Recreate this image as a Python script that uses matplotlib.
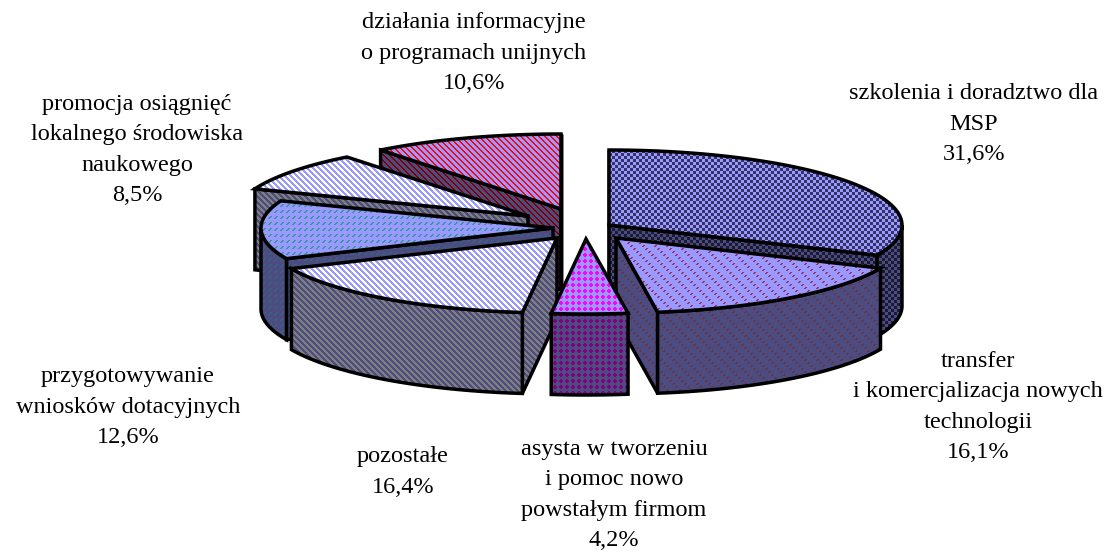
import numpy as np
import matplotlib
matplotlib.use("Agg")
import matplotlib.pyplot as plt
from matplotlib.patches import Polygon

plt.rcParams['font.family'] = ['Liberation Serif', 'DejaVu Serif']

# ---- data (clockwise from 12 o'clock) ----
categories = ["szkolenia i doradztwo dla\nMSP",
              "transfer\ni komercjalizacja nowych\ntechnologii",
              "asysta w tworzeniu\ni pomoc nowo\npowstałym firmom",
              "pozostałe",
              "przygotowywanie\nwniosków dotacyjnych",
              "promocja osiągnięć\nlokalnego środowiska\nnaukowego",
              "działania informacyjne\no programach unijnych"]
values = [31.6, 16.1, 4.2, 16.4, 12.6, 8.5, 10.6]

# ---- layout / style ----
W, H = 1109, 554
B, DEPTH = 75, 81
radii = [293, 289, 292, 291, 292, 293, 292]
apex = [(609, 225), (616, 238), (586, 239), (557, 238), (553, 228), (528, 216), (561, 209)]
label_xy = [(974, 124), (978, 407), (614, 495), (403, 472), (128, 407), (137, 150), (474, 53)]
draw_order = [6, 5, 4, 3, 0, 1, 2]
kinds = ['checker', 'dash', 'dots', 'stripe', 'zigzag', 'stripe', 'thin']
top_colors = [('#9999FF', '#333366'), ('#9999FF', '#993366'), ('#9999FF', '#FF00FF'),
              ('#FFFFFF', '#9999FF'), ('#9999FF', '#339999'), ('#FFFFFF', '#9999FF'),
              ('#9999FF', '#FF0000')]
side_colors = [('#4C4C80', '#1A1A33'), ('#4C4C80', '#663344'), ('#4C4C80', '#800080'),
               ('#808080', '#4C4C80'), ('#4C4C80', '#336680'), ('#808080', '#4C4C80'),
               ('#4C4C80', '#800000')]

yy, xx = np.mgrid[0:H, 0:W]
def mask(kind):
    if kind == 'checker':
        return (xx // 3 + yy // 3) % 2 == 0
    if kind == 'stripe':
        return (xx - yy) % 6 < 3
    if kind == 'thin':
        return (xx - yy) % 6 < 2
    if kind == 'dash':
        return ((xx + yy) % 6 < 2) & ((xx - yy) % 12 < 4)
    if kind == 'zigzag':
        return ((xx + yy) % 6 < 2) & (yy % 6 < 3)
    if kind == 'dots':
        dx = (xx % 6) - 2.5
        dy = (yy % 6) - 2.5
        return dx * dx + dy * dy < 4
    raise ValueError(kind)

def texture(kind, colors):
    bg, fg = [np.array(matplotlib.colors.to_rgb(c)) for c in colors]
    return np.where(mask(kind)[..., None], fg, bg)

fig = plt.figure(figsize=(W / 100, H / 100), dpi=100)
ax = fig.add_axes([0, 0, 1, 1])
ax.axis('off')

z = [1]
def face(pts, kind, colors):
    poly = Polygon(pts, closed=True, facecolor='none', edgecolor='black',
                   linewidth=2.5, joinstyle='miter', zorder=z[0] + 1)
    ax.add_patch(poly)
    im = ax.imshow(texture(kind, colors), extent=(0, W, H, 0), origin='upper',
                   aspect='auto', interpolation='nearest', zorder=z[0])
    im.set_clip_path(poly)
    z[0] += 2

def rim(c, a, t0, t1, n=80):
    t = np.radians(np.linspace(t0, t1, n))
    return np.column_stack([c[0] + a * np.sin(t), c[1] - B * np.cos(t)])

edges = np.concatenate([[0], np.cumsum(values)]) / np.sum(values) * 360
for i in draw_order:
    t0, t1 = edges[i], edges[i + 1]
    c = np.array(apex[i], float)
    a = radii[i]
    down = np.array([0, DEPTH])
    kind = kinds[i]
    # radial cut faces looking toward the viewer
    for t, normal in ((t0, t0 - 90), (t1, t1 + 90)):
        if np.cos(np.radians(normal)) < -1e-6 or (t == 0) or (t == 360):
            p = rim(c, a, t, t, 1)[0]
            face([c, p, p + down, c + down], kind, side_colors[i])
    # outer wall on the front half of the ellipse
    lo, hi = max(t0, 90), min(t1, 270)
    if hi > lo:
        arc = rim(c, a, lo, hi)
        face(np.vstack([arc, arc[::-1] + down]), kind, side_colors[i])
    # top
    face(np.vstack([[c], rim(c, a, t0, t1)]), kind, top_colors[i])

for name, v, (x, y) in zip(categories, values, label_xy):
    txt = f"{name}\n{str(v).replace('.', ',')}%"
    ax.text(x, y, txt, ha='center', va='center', fontsize=17.5, color='black',
            linespacing=1.59, zorder=z[0])

ax.set_xlim(0, W)
ax.set_ylim(H, 0)
fig.savefig('out.png', dpi=100, facecolor='white')
